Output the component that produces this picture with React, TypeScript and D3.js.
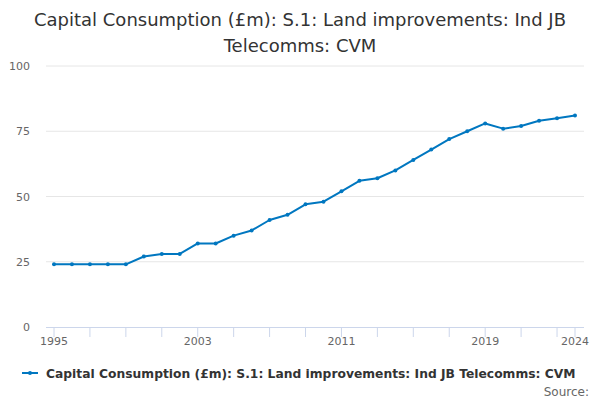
import React from "react";
import * as d3 from "d3";

const years = d3.range(1995, 2025);
const values = [
  24, 24, 24, 24, 24, 27, 28, 28, 32, 32, 35, 37, 41, 43, 47, 48, 52, 56, 57,
  60, 64, 68, 72, 75, 78, 76, 77, 79, 80, 81,
];
const yTicks = [0, 25, 50, 75, 100];
const xTickMarks = [...d3.range(1995, 2024, 2), 2024];
const xLabels = [1995, 2003, 2011, 2019, 2024];

const titleLines = [
  "Capital Consumption (£m): S.1: Land improvements: Ind JB",
  "Telecomms: CVM",
];
const seriesName =
  "Capital Consumption (£m): S.1: Land improvements: Ind JB Telecomms: CVM";

const App = () => {
  const width = 600;
  const height = 400;
  const font = "DejaVu Sans, sans-serif";
  const color = "#0077c0";

  const xScale = d3.scaleLinear().domain([1995, 2024]).range([54, 575]);
  const yScale = d3.scaleLinear().domain([0, 100]).range([327, 66]);

  const line = d3
    .line<number>()
    .x((_, i) => xScale(years[i]))
    .y((d) => yScale(d));

  return (
    <svg
      width={width}
      height={height}
      style={{ position: "absolute", top: 0, left: 0, fontFamily: font }}
    >
      <rect width={width} height={height} fill="#fff" />
      {titleLines.map((t, i) => (
        <text
          key={i}
          x={300}
          y={26 + i * 26}
          textAnchor="middle"
          fontSize={18}
          fill="#333"
        >
          {t}
        </text>
      ))}

      {/* horizontal grid */}
      {yTicks.map((tick) => (
        <g key={`y-${tick}`}>
          {tick > 0 && (
            <line
              x1={46}
              x2={584}
              y1={yScale(tick)}
              y2={yScale(tick)}
              stroke="#e6e6e6"
              strokeWidth={1}
            />
          )}
          <text
            x={30}
            y={yScale(tick) + 4}
            textAnchor="end"
            fontSize={11}
            fill="#666"
          >
            {tick}
          </text>
        </g>
      ))}

      {/* x axis */}
      <line
        x1={46}
        x2={584}
        y1={327.5}
        y2={327.5}
        stroke="#ccd6eb"
        strokeWidth={1}
      />
      {xTickMarks.map((tick) => (
        <line
          key={`xt-${tick}`}
          x1={xScale(tick)}
          x2={xScale(tick)}
          y1={327}
          y2={337}
          stroke="#ccd6eb"
          strokeWidth={1}
        />
      ))}
      {xLabels.map((tick) => (
        <text
          key={`xl-${tick}`}
          x={xScale(tick)}
          y={345}
          textAnchor="middle"
          fontSize={11}
          fill="#666"
        >
          {tick}
        </text>
      ))}

      <path
        d={line(values) ?? ""}
        fill="none"
        stroke={color}
        strokeWidth={2}
        strokeLinejoin="round"
        strokeLinecap="round"
      />
      {values.map((v, i) => (
        <circle
          key={`p-${i}`}
          cx={xScale(years[i])}
          cy={yScale(v)}
          r={2}
          fill={color}
        />
      ))}

      {/* legend */}
      <line x1={22} x2={38} y1={373} y2={373} stroke={color} strokeWidth={2} />
      <circle cx={30} cy={373} r={2} fill={color} />
      <text x={46} y={377.5} fontSize={12.3} fontWeight="bold" fill="#333">
        {seriesName}
      </text>
      <text x={589} y={396} textAnchor="end" fontSize={12} fill="#666">
        Source:
      </text>
    </svg>
  );
};

export default App;
